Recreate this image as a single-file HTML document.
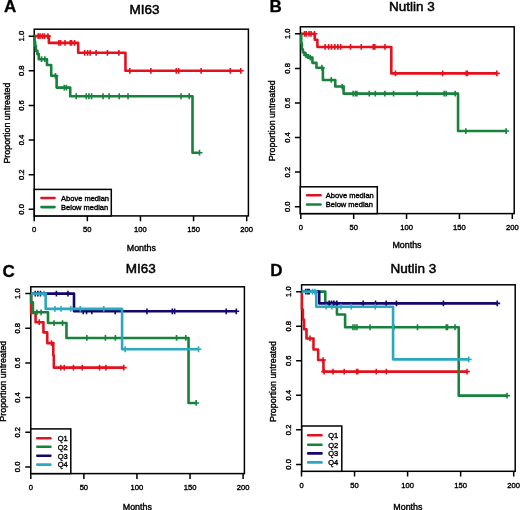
<!DOCTYPE html>
<html><head><meta charset="utf-8"><title>Figure</title><style>
html,body{margin:0;padding:0;background:#fff;}
body{width:520px;height:510px;overflow:hidden;}
svg{display:block;filter:blur(0.3px);}
text{font-family:"Liberation Sans", sans-serif;fill:#000;stroke:#000;stroke-width:0.38px;}
.tk{font-size:7.6px;}
.ax{font-size:8.9px;}
.lg{font-size:7.5px;}
.ti{font-size:13.5px;stroke-width:0.5px;}
.le{font-size:17px;font-weight:bold;stroke-width:0.3px;}
</style></head>
<body><svg width="520" height="510" viewBox="0 0 520 510">
<rect x="0" y="0" width="520" height="510" fill="#fff"/>
<rect x="34.2" y="29.2" width="214.2" height="186.7" fill="none" stroke="#000" stroke-width="1.5"/>
<path d="M34.2 36.15H48.86V42.9H78.19V52.78H125.47V70.79H240.86" stroke="#e3121e" stroke-width="2.6" fill="none" stroke-linejoin="round"/>
<path d="M38.24 33.25v5.8M35.34 36.15h5.8M40.04 33.25v5.8M37.14 36.15h5.8M42.38 33.25v5.8M39.48 36.15h5.8M44.4 33.25v5.8M41.5 36.15h5.8M47.91 33.25v5.8M45.01 36.15h5.8M58.85 40v5.8M55.95 42.9h5.8M60.66 40v5.8M57.76 42.9h5.8M65.01 40v5.8M62.11 42.9h5.8M70.33 40v5.8M67.42 42.9h5.8M71.6 40v5.8M68.7 42.9h5.8M74.58 40v5.8M71.67 42.9h5.8M84.67 49.88v5.8M81.77 52.78h5.8M87.64 49.88v5.8M84.74 52.78h5.8M90.19 49.88v5.8M87.29 52.78h5.8M96.14 49.88v5.8M93.24 52.78h5.8M107.41 49.88v5.8M104.51 52.78h5.8M118.88 49.88v5.8M115.98 52.78h5.8M129.82 67.89v5.8M126.92 70.79h5.8M150.86 67.89v5.8M147.96 70.79h5.8M176.26 67.89v5.8M173.36 70.79h5.8M178.7 67.89v5.8M175.8 70.79h5.8M201.12 67.89v5.8M198.22 70.79h5.8M230.34 67.89v5.8M227.44 70.79h5.8M240.86 67.89v5.8M237.96 70.79h5.8" stroke="#e3121e" stroke-width="1.6" fill="none"/>
<path d="M34.2 36.15H34.62V41.87H35.16V45.68H35.9V50.87H37.39V54.16H38.77V59.19H46.95V65.07H51.2V75.81H56.62V87.59H70.22V96.25H192.51V152.71H199.52" stroke="#17823c" stroke-width="2.6" fill="none" stroke-linejoin="round"/>
<path d="M41.53 56.29v5.8M38.63 59.19h5.8M44.83 56.29v5.8M41.93 59.19h5.8M55.45 72.91v5.8M52.55 75.81h5.8M64.27 84.69v5.8M61.37 87.59h5.8M66.39 84.69v5.8M63.49 87.59h5.8M76.17 93.35v5.8M73.27 96.25h5.8M86.26 93.35v5.8M83.36 96.25h5.8M88.92 93.35v5.8M86.02 96.25h5.8M91.58 93.35v5.8M88.67 96.25h5.8M103.05 93.35v5.8M100.15 96.25h5.8M109.11 93.35v5.8M106.21 96.25h5.8M119.2 93.35v5.8M116.3 96.25h5.8M128.02 93.35v5.8M125.12 96.25h5.8M181.04 93.35v5.8M178.14 96.25h5.8M189.22 93.35v5.8M186.32 96.25h5.8M199.52 149.81v5.8M196.62 152.71h5.8" stroke="#17823c" stroke-width="1.6" fill="none"/>
<rect x="34.3" y="189.4" width="77" height="26.5" fill="#fff" stroke="#000" stroke-width="1.5"/>
<line x1="41.5" y1="198" x2="54.5" y2="198" stroke="#e3121e" stroke-width="2.6" stroke-linecap="round"/>
<text x="61.1" y="200.8" class="lg">Above median</text>
<line x1="41.5" y1="207.1" x2="54.5" y2="207.1" stroke="#17823c" stroke-width="2.6" stroke-linecap="round"/>
<text x="61.1" y="209.9" class="lg">Below median</text>
<path d="M28.7 209.35h5.5M28.7 174.71h5.5M28.7 140.07h5.5M28.7 105.43h5.5M28.7 70.79h5.5M28.7 36.15h5.5M34.2 215.9v5.3M87.33 215.9v5.3M140.45 215.9v5.3M193.57 215.9v5.3M246.7 215.9v5.3" stroke="#000" stroke-width="1.5" fill="none"/>
<text class="tk" text-anchor="middle" transform="translate(23.8 209.35) rotate(-90)">0.0</text>
<text class="tk" text-anchor="middle" transform="translate(23.8 174.71) rotate(-90)">0.2</text>
<text class="tk" text-anchor="middle" transform="translate(23.8 140.07) rotate(-90)">0.4</text>
<text class="tk" text-anchor="middle" transform="translate(23.8 105.43) rotate(-90)">0.6</text>
<text class="tk" text-anchor="middle" transform="translate(23.8 70.79) rotate(-90)">0.8</text>
<text class="tk" text-anchor="middle" transform="translate(23.8 36.15) rotate(-90)">1.0</text>
<text class="tk" text-anchor="middle" x="34.2" y="232.3">0</text>
<text class="tk" text-anchor="middle" x="87.33" y="232.3">50</text>
<text class="tk" text-anchor="middle" x="140.45" y="232.3">100</text>
<text class="tk" text-anchor="middle" x="193.57" y="232.3">150</text>
<text class="tk" text-anchor="middle" x="246.7" y="232.3">200</text>
<text class="ax" text-anchor="middle" transform="translate(10.4 123.15) rotate(-90)">Proportion untreated</text>
<text class="ax" text-anchor="middle" x="141.3" y="250.6">Months</text>
<text class="ti" text-anchor="middle" x="144.6" y="13.6">MI63</text>
<text class="le" x="3.9" y="12.4">A</text>
<rect x="300.4" y="26.8" width="213.8" height="186.8" fill="none" stroke="#000" stroke-width="1.5"/>
<path d="M300.8 33.8H314.76V39.68H317.4V46.94H391.32V73.39H496.86" stroke="#e3121e" stroke-width="2.6" fill="none" stroke-linejoin="round"/>
<path d="M304.5 30.9v5.8M301.6 33.8h5.8M306.3 30.9v5.8M303.4 33.8h5.8M309.05 30.9v5.8M306.15 33.8h5.8M311.06 30.9v5.8M308.16 33.8h5.8M314.55 30.9v5.8M311.65 33.8h5.8M325.12 44.04v5.8M322.22 46.94h5.8M328.61 44.04v5.8M325.71 46.94h5.8M331.47 44.04v5.8M328.57 46.94h5.8M334.85 44.04v5.8M331.95 46.94h5.8M337.81 44.04v5.8M334.91 46.94h5.8M340.67 44.04v5.8M337.77 46.94h5.8M350.5 44.04v5.8M347.6 46.94h5.8M361.29 44.04v5.8M358.39 46.94h5.8M373.24 44.04v5.8M370.34 46.94h5.8M374.83 44.04v5.8M371.93 46.94h5.8M384.98 44.04v5.8M382.08 46.94h5.8M395.45 70.49v5.8M392.55 73.39h5.8M442.72 70.49v5.8M439.82 73.39h5.8M466.3 70.49v5.8M463.4 73.39h5.8M467.36 70.49v5.8M464.46 73.39h5.8M496.86 70.49v5.8M493.96 73.39h5.8" stroke="#e3121e" stroke-width="1.6" fill="none"/>
<path d="M300.8 33.8H301.22V43.31H301.86V49.19H302.92V52.47H304.71V55.24H308.2V57.66H312.43V62.85H316.45V67.69H322.9V79.96H335.27V86.53H343.63V93.62H458.05V131.06H506.17" stroke="#17823c" stroke-width="2.6" fill="none" stroke-linejoin="round"/>
<path d="M306.09 52.34v5.8M303.19 55.24h5.8M310.32 54.76v5.8M307.42 57.66h5.8M321.84 64.79v5.8M318.94 67.69h5.8M331.26 77.06v5.8M328.36 79.96h5.8M342.25 83.63v5.8M339.35 86.53h5.8M353.15 90.72v5.8M350.25 93.62h5.8M355.37 90.72v5.8M352.47 93.62h5.8M356.85 90.72v5.8M353.95 93.62h5.8M369.22 90.72v5.8M366.32 93.62h5.8M375.35 90.72v5.8M372.45 93.62h5.8M384.87 90.72v5.8M381.97 93.62h5.8M393.54 90.72v5.8M390.64 93.62h5.8M417.12 90.72v5.8M414.23 93.62h5.8M444.2 90.72v5.8M441.3 93.62h5.8M446.21 90.72v5.8M443.31 93.62h5.8M455.2 90.72v5.8M452.3 93.62h5.8M465.77 128.16v5.8M462.87 131.06h5.8M506.17 128.16v5.8M503.27 131.06h5.8" stroke="#17823c" stroke-width="1.6" fill="none"/>
<rect x="300.3" y="186.8" width="77" height="26.8" fill="#fff" stroke="#000" stroke-width="1.5"/>
<line x1="307.1" y1="195.3" x2="320.5" y2="195.3" stroke="#e3121e" stroke-width="2.6" stroke-linecap="round"/>
<text x="325.8" y="198.1" class="lg">Above median</text>
<line x1="307.1" y1="204.5" x2="320.5" y2="204.5" stroke="#17823c" stroke-width="2.6" stroke-linecap="round"/>
<text x="325.8" y="207.3" class="lg">Below median</text>
<path d="M294.9 206.7h5.5M294.9 172.12h5.5M294.9 137.54h5.5M294.9 102.96h5.5M294.9 68.38h5.5M294.9 33.8h5.5M300.8 213.6v5.3M353.68 213.6v5.3M406.55 213.6v5.3M459.43 213.6v5.3M512.3 213.6v5.3" stroke="#000" stroke-width="1.5" fill="none"/>
<text class="tk" text-anchor="middle" transform="translate(289.8 206.7) rotate(-90)">0.0</text>
<text class="tk" text-anchor="middle" transform="translate(289.8 172.12) rotate(-90)">0.2</text>
<text class="tk" text-anchor="middle" transform="translate(289.8 137.54) rotate(-90)">0.4</text>
<text class="tk" text-anchor="middle" transform="translate(289.8 102.96) rotate(-90)">0.6</text>
<text class="tk" text-anchor="middle" transform="translate(289.8 68.38) rotate(-90)">0.8</text>
<text class="tk" text-anchor="middle" transform="translate(289.8 33.8) rotate(-90)">1.0</text>
<text class="tk" text-anchor="middle" x="300.8" y="229.7">0</text>
<text class="tk" text-anchor="middle" x="353.68" y="229.7">50</text>
<text class="tk" text-anchor="middle" x="406.55" y="229.7">100</text>
<text class="tk" text-anchor="middle" x="459.43" y="229.7">150</text>
<text class="tk" text-anchor="middle" x="512.3" y="229.7">200</text>
<text class="ax" text-anchor="middle" transform="translate(275.2 120.9) rotate(-90)">Proportion untreated</text>
<text class="ax" text-anchor="middle" x="407" y="248.3">Months</text>
<text class="ti" text-anchor="middle" x="411.9" y="11">Nutlin 3</text>
<text class="le" x="269.6" y="12.4">B</text>
<rect x="30.8" y="286.8" width="213.6" height="186.8" fill="none" stroke="#000" stroke-width="1.5"/>
<path d="M30.8 293.6H31.12V313.01H35.58V322.19H43.43V332.42H47.25V343.16H53.3V355.47H53.83V367.6H123.79" stroke="#e3121e" stroke-width="2.6" fill="none" stroke-linejoin="round"/>
<path d="M39.29 319.29v5.8M36.39 322.19h5.8M51.5 340.26v5.8M48.6 343.16h5.8M60.84 364.7v5.8M57.94 367.6h5.8M64.24 364.7v5.8M61.34 367.6h5.8M73.47 364.7v5.8M70.57 367.6h5.8M82.28 364.7v5.8M79.38 367.6h5.8M99.59 364.7v5.8M96.69 367.6h5.8M105.95 364.7v5.8M103.05 367.6h5.8M123.79 364.7v5.8M120.89 367.6h5.8" stroke="#e3121e" stroke-width="1.6" fill="none"/>
<path d="M30.8 293.6H31.12V302.27H32.92V312.32H48V323.06H66.47V337.96H188.54V402.95H196.18" stroke="#17823c" stroke-width="2.6" fill="none" stroke-linejoin="round"/>
<path d="M36.85 309.42v5.8M33.95 312.32h5.8M41.1 309.42v5.8M38.2 312.32h5.8M54.05 320.16v5.8M51.15 323.06h5.8M62.54 320.16v5.8M59.64 323.06h5.8M86.85 335.06v5.8M83.95 337.96h5.8M105.42 335.06v5.8M102.52 337.96h5.8M115.4 335.06v5.8M112.5 337.96h5.8M176.54 335.06v5.8M173.64 337.96h5.8M185.78 335.06v5.8M182.88 337.96h5.8M196.18 400.05v5.8M193.28 402.95h5.8" stroke="#17823c" stroke-width="1.6" fill="none"/>
<path d="M30.8 293.6H74V311.28H236.31" stroke="#16066c" stroke-width="2.6" fill="none" stroke-linejoin="round"/>
<path d="M35.26 290.7v5.8M32.36 293.6h5.8M37.81 290.7v5.8M34.91 293.6h5.8M40.46 290.7v5.8M37.56 293.6h5.8M56.38 290.7v5.8M53.48 293.6h5.8M67.95 290.7v5.8M65.05 293.6h5.8M83.24 308.38v5.8M80.34 311.28h5.8M86.53 308.38v5.8M83.63 311.28h5.8M91.84 308.38v5.8M88.94 311.28h5.8M115.19 308.38v5.8M112.29 311.28h5.8M146.93 308.38v5.8M144.03 311.28h5.8M172.3 308.38v5.8M169.4 311.28h5.8M174.63 308.38v5.8M171.73 311.28h5.8M226.22 308.38v5.8M223.32 311.28h5.8M236.31 308.38v5.8M233.41 311.28h5.8" stroke="#16066c" stroke-width="1.6" fill="none"/>
<path d="M30.8 293.6H45.66V308.85H122.09V349.23H198.52" stroke="#2aa8c0" stroke-width="2.6" fill="none" stroke-linejoin="round"/>
<path d="M43.96 290.7v5.8M41.06 293.6h5.8M54.9 305.95v5.8M52 308.85h5.8M61.05 305.95v5.8M58.15 308.85h5.8M70.71 305.95v5.8M67.81 308.85h5.8M80.27 305.95v5.8M77.37 308.85h5.8M103.73 305.95v5.8M100.83 308.85h5.8M125.17 346.33v5.8M122.27 349.23h5.8M198.52 346.33v5.8M195.62 349.23h5.8" stroke="#2aa8c0" stroke-width="1.6" fill="none"/>
<rect x="30.8" y="428.9" width="40" height="44.7" fill="#fff" stroke="#000" stroke-width="1.5"/>
<line x1="37.3" y1="438.2" x2="50.4" y2="438.2" stroke="#e3121e" stroke-width="2.6" stroke-linecap="round"/>
<text x="57.7" y="441" class="lg">Q1</text>
<line x1="37.3" y1="446.7" x2="50.4" y2="446.7" stroke="#17823c" stroke-width="2.6" stroke-linecap="round"/>
<text x="57.7" y="449.5" class="lg">Q2</text>
<line x1="37.3" y1="455.7" x2="50.4" y2="455.7" stroke="#16066c" stroke-width="2.6" stroke-linecap="round"/>
<text x="57.7" y="458.5" class="lg">Q3</text>
<line x1="37.3" y1="464.6" x2="50.4" y2="464.6" stroke="#2aa8c0" stroke-width="2.6" stroke-linecap="round"/>
<text x="57.7" y="467.4" class="lg">Q4</text>
<path d="M25.3 466.9h5.5M25.3 432.24h5.5M25.3 397.58h5.5M25.3 362.92h5.5M25.3 328.26h5.5M25.3 293.6h5.5M30.8 473.6v5.3M83.88 473.6v5.3M136.95 473.6v5.3M190.03 473.6v5.3M243.1 473.6v5.3" stroke="#000" stroke-width="1.5" fill="none"/>
<text class="tk" text-anchor="middle" transform="translate(19.8 466.9) rotate(-90)">0.0</text>
<text class="tk" text-anchor="middle" transform="translate(19.8 432.24) rotate(-90)">0.2</text>
<text class="tk" text-anchor="middle" transform="translate(19.8 397.58) rotate(-90)">0.4</text>
<text class="tk" text-anchor="middle" transform="translate(19.8 362.92) rotate(-90)">0.6</text>
<text class="tk" text-anchor="middle" transform="translate(19.8 328.26) rotate(-90)">0.8</text>
<text class="tk" text-anchor="middle" transform="translate(19.8 293.6) rotate(-90)">1.0</text>
<text class="tk" text-anchor="middle" x="30.8" y="490">0</text>
<text class="tk" text-anchor="middle" x="83.88" y="490">50</text>
<text class="tk" text-anchor="middle" x="136.95" y="490">100</text>
<text class="tk" text-anchor="middle" x="190.03" y="490">150</text>
<text class="tk" text-anchor="middle" x="243.1" y="490">200</text>
<text class="ax" text-anchor="middle" transform="translate(6.1 381.2) rotate(-90)">Proportion untreated</text>
<text class="ax" text-anchor="middle" x="137.3" y="509.7">Months</text>
<text class="ti" text-anchor="middle" x="140.8" y="273.3">MI63</text>
<text class="le" x="2.5" y="276.5">C</text>
<rect x="301.6" y="284.8" width="213.6" height="186.5" fill="none" stroke="#000" stroke-width="1.5"/>
<path d="M301.5 291.65H301.92V309.44H302.88V319.46H304.05V329.31H306.49V338.47H313.49V349.52H318.16V360.06H323.46V371.63H467.02" stroke="#e3121e" stroke-width="2.6" fill="none" stroke-linejoin="round"/>
<path d="M309.99 335.57v5.8M307.09 338.47h5.8M323.04 357.16v5.8M320.14 360.06h5.8M324.1 368.73v5.8M321.2 371.63h5.8M333.01 368.73v5.8M330.11 371.63h5.8M344.26 368.73v5.8M341.36 371.63h5.8M356.67 368.73v5.8M353.77 371.63h5.8M357.73 368.73v5.8M354.83 371.63h5.8M376.3 368.73v5.8M373.4 371.63h5.8M386.38 368.73v5.8M383.48 371.63h5.8M467.02 368.73v5.8M464.12 371.63h5.8" stroke="#e3121e" stroke-width="1.6" fill="none"/>
<path d="M301.5 291.65H325.27V302.88H336.94V314.45H345.11V327.24H458.74V395.65H507.02" stroke="#17823c" stroke-width="2.6" fill="none" stroke-linejoin="round"/>
<path d="M352.96 324.34v5.8M350.06 327.24h5.8M354.97 324.34v5.8M352.07 327.24h5.8M356.99 324.34v5.8M354.09 327.24h5.8M370.04 324.34v5.8M367.14 327.24h5.8M393.81 324.34v5.8M390.91 327.24h5.8M417.47 324.34v5.8M414.57 327.24h5.8M446.22 324.34v5.8M443.32 327.24h5.8M447.49 324.34v5.8M444.59 327.24h5.8M455.03 324.34v5.8M452.13 327.24h5.8M507.02 392.75v5.8M504.12 395.65h5.8" stroke="#17823c" stroke-width="1.6" fill="none"/>
<path d="M301.5 291.65H319.22V303.4H497.25" stroke="#16066c" stroke-width="2.6" fill="none" stroke-linejoin="round"/>
<path d="M305.74 288.75v5.8M302.84 291.65h5.8M307.65 288.75v5.8M304.75 291.65h5.8M309.25 288.75v5.8M306.35 291.65h5.8M329.19 300.5v5.8M326.29 303.4h5.8M331.53 300.5v5.8M328.63 303.4h5.8M333.86 300.5v5.8M330.96 303.4h5.8M336.83 300.5v5.8M333.93 303.4h5.8M363.14 300.5v5.8M360.24 303.4h5.8M375.56 300.5v5.8M372.66 303.4h5.8M386.17 300.5v5.8M383.27 303.4h5.8M396.46 300.5v5.8M393.56 303.4h5.8M443.46 300.5v5.8M440.56 303.4h5.8M497.25 300.5v5.8M494.35 303.4h5.8" stroke="#16066c" stroke-width="1.6" fill="none"/>
<path d="M301.5 291.65H316.25V306.68H393.06V359.37H468.71" stroke="#2aa8c0" stroke-width="2.6" fill="none" stroke-linejoin="round"/>
<path d="M312.64 288.75v5.8M309.74 291.65h5.8M314.87 288.75v5.8M311.97 291.65h5.8M326.12 303.78v5.8M323.22 306.68h5.8M331.84 303.78v5.8M328.94 306.68h5.8M340.97 303.78v5.8M338.07 306.68h5.8M351.15 303.78v5.8M348.25 306.68h5.8M375.24 303.78v5.8M372.34 306.68h5.8M468.71 356.47v5.8M465.81 359.37h5.8" stroke="#2aa8c0" stroke-width="1.6" fill="none"/>
<rect x="301.8" y="426" width="40" height="45.3" fill="#fff" stroke="#000" stroke-width="1.5"/>
<line x1="308.2" y1="435.3" x2="321.5" y2="435.3" stroke="#e3121e" stroke-width="2.6" stroke-linecap="round"/>
<text x="328.2" y="438.1" class="lg">Q1</text>
<line x1="308.2" y1="444.7" x2="321.5" y2="444.7" stroke="#17823c" stroke-width="2.6" stroke-linecap="round"/>
<text x="328.2" y="447.5" class="lg">Q2</text>
<line x1="308.2" y1="453.4" x2="321.5" y2="453.4" stroke="#16066c" stroke-width="2.6" stroke-linecap="round"/>
<text x="328.2" y="456.2" class="lg">Q3</text>
<line x1="308.2" y1="462.4" x2="321.5" y2="462.4" stroke="#2aa8c0" stroke-width="2.6" stroke-linecap="round"/>
<text x="328.2" y="465.2" class="lg">Q4</text>
<path d="M296.1 464.4h5.5M296.1 429.85h5.5M296.1 395.3h5.5M296.1 360.75h5.5M296.1 326.2h5.5M296.1 291.65h5.5M301.5 471.3v5.3M354.55 471.3v5.3M407.6 471.3v5.3M460.65 471.3v5.3M513.7 471.3v5.3" stroke="#000" stroke-width="1.5" fill="none"/>
<text class="tk" text-anchor="middle" transform="translate(290.7 464.4) rotate(-90)">0.0</text>
<text class="tk" text-anchor="middle" transform="translate(290.7 429.85) rotate(-90)">0.2</text>
<text class="tk" text-anchor="middle" transform="translate(290.7 395.3) rotate(-90)">0.4</text>
<text class="tk" text-anchor="middle" transform="translate(290.7 360.75) rotate(-90)">0.6</text>
<text class="tk" text-anchor="middle" transform="translate(290.7 326.2) rotate(-90)">0.8</text>
<text class="tk" text-anchor="middle" transform="translate(290.7 291.65) rotate(-90)">1.0</text>
<text class="tk" text-anchor="middle" x="301.5" y="488">0</text>
<text class="tk" text-anchor="middle" x="354.55" y="488">50</text>
<text class="tk" text-anchor="middle" x="407.6" y="488">100</text>
<text class="tk" text-anchor="middle" x="460.65" y="488">150</text>
<text class="tk" text-anchor="middle" x="513.7" y="488">200</text>
<text class="ax" text-anchor="middle" transform="translate(276 381.55) rotate(-90)">Proportion untreated</text>
<text class="ax" text-anchor="middle" x="407.9" y="510.4">Months</text>
<text class="ti" text-anchor="middle" x="413.3" y="273.3">Nutlin 3</text>
<text class="le" x="270.2" y="275.8">D</text>
</svg></body></html>
